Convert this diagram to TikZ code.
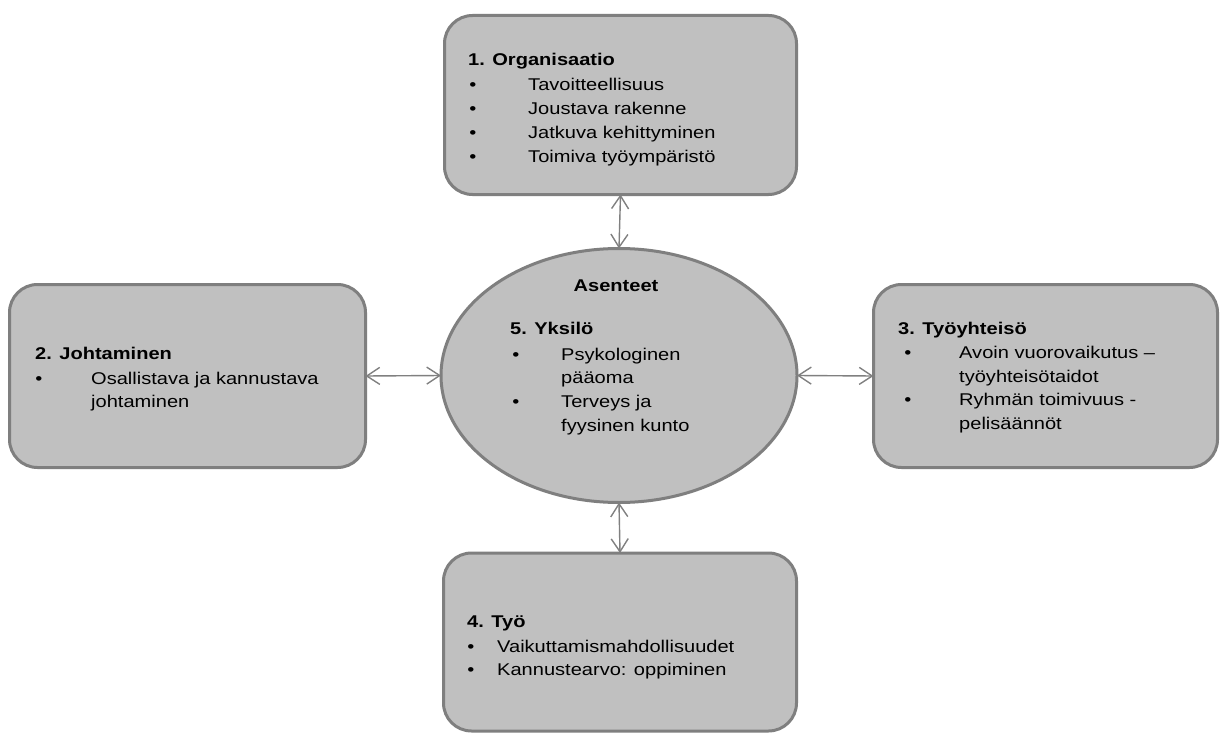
\documentclass[tikz,border=0pt]{standalone}
\usepackage{fontspec}
\setmainfont{Liberation Sans}[FakeStretch=1.18]
\usetikzlibrary{arrows.meta,shapes.geometric}
\definecolor{boxfill}{HTML}{C0C0C0}
\definecolor{boxline}{HTML}{7F7F7F}
\definecolor{arrline}{HTML}{808080}
\begin{document}
\begin{tikzpicture}[x=1pt,y=-1pt,
  box/.style={draw=boxline, fill=boxfill, line width=3pt, rounded corners=28pt, inner sep=0pt, outer sep=0pt},
  oval/.style={ellipse, draw=boxline, fill=boxfill, line width=3pt, inner sep=0pt, outer sep=0pt},
  conn/.style={draw=arrline, line width=1.4pt, {Straight Barb[length=13pt,width=17pt]}-{Straight Barb[length=13pt,width=17pt]}},
  txt/.style={anchor=base west, inner sep=0pt, font=\fontsize{17}{24}\selectfont},
  ttl/.style={txt, font=\fontsize{17}{24}\selectfont\bfseries},
  bul/.style={anchor=base, inner sep=0pt, font=\fontsize{17}{24}\selectfont}]
\useasboundingbox (0,0) rectangle (1221,733);
\fill[white] (0,0) rectangle (1221,733);

% shapes
\node[box, minimum width=352pt, minimum height=179pt] (org) at (620.5,105) {};
\node[box, minimum width=356pt, minimum height=183pt] (joht) at (187.5,376) {};
\node[box, minimum width=344pt, minimum height=183pt] (yht) at (1045.5,376) {};
\node[box, minimum width=353pt, minimum height=178pt] (tyo) at (620,642) {};
\node[oval, minimum width=356pt, minimum height=254pt] (ell) at (619,375.5) {};

% connectors
\draw[conn] (org.south) -- (ell.north);
\draw[conn] (joht.east) -- (ell.west);
\draw[conn] (yht.west) -- (ell.east);
\draw[conn] (tyo.north) -- (ell.south);

% 1. Organisaatio
\node[ttl] (t1) at (468,66) {1. Organisaatio};
\node[bul] (b11) at (473,91) {•};
\node[txt] (l11) at (528,91) {Tavoitteellisuus};
\node[bul] (b12) at (473,115) {•};
\node[txt] (l12) at (528,115) {Joustava rakenne};
\node[bul] (b13) at (473,139) {•};
\node[txt] (l13) at (528,139) {Jatkuva kehittyminen};
\node[bul] (b14) at (473,163) {•};
\node[txt] (l14) at (528,163) {Toimiva työympäristö};

% 2. Johtaminen
\node[ttl] (t2) at (35,359) {2. Johtaminen};
\node[bul] (b21) at (39,384) {•};
\node[txt] (l21) at (91,384) {Osallistava ja kannustava};
\node[txt] (l22) at (91,407) {johtaminen};

% 3. Työyhteisö
\node[ttl] (t3) at (898,334) {3. Työyhteisö};
\node[bul] (b31) at (908,358) {•};
\node[txt] (l31) at (959,358) {Avoin vuorovaikutus –};
\node[txt] (l32) at (959,382) {työyhteisötaidot};
\node[bul] (b32) at (908,405) {•};
\node[txt] (l33) at (959,405) {Ryhmän toimivuus -};
\node[txt] (l34) at (959,429) {pelisäännöt};

% 5. Yksilö
\node[ttl, anchor=base] (asn) at (616,291) {Asenteet};
\node[ttl] (t5) at (510,334) {5. Yksilö};
\node[bul] (b51) at (516,360) {•};
\node[txt] (l51) at (561,360) {Psykologinen};
\node[txt] (l52) at (561,383) {pääoma};
\node[bul] (b52) at (516,407) {•};
\node[txt] (l53) at (561,407) {Terveys ja};
\node[txt] (l54) at (561,431) {fyysinen kunto};

% 4. Työ
\node[ttl] (t4) at (467,627) {4. Työ};
\node[bul] (b41) at (471,652) {•};
\node[txt] (l41) at (497,652) {Vaikuttamismahdollisuudet};
\node[bul] (b42) at (471,675) {•};
\node[txt] (l42) at (497,675) {Kannustearvo: oppiminen};
\end{tikzpicture}
\end{document}
